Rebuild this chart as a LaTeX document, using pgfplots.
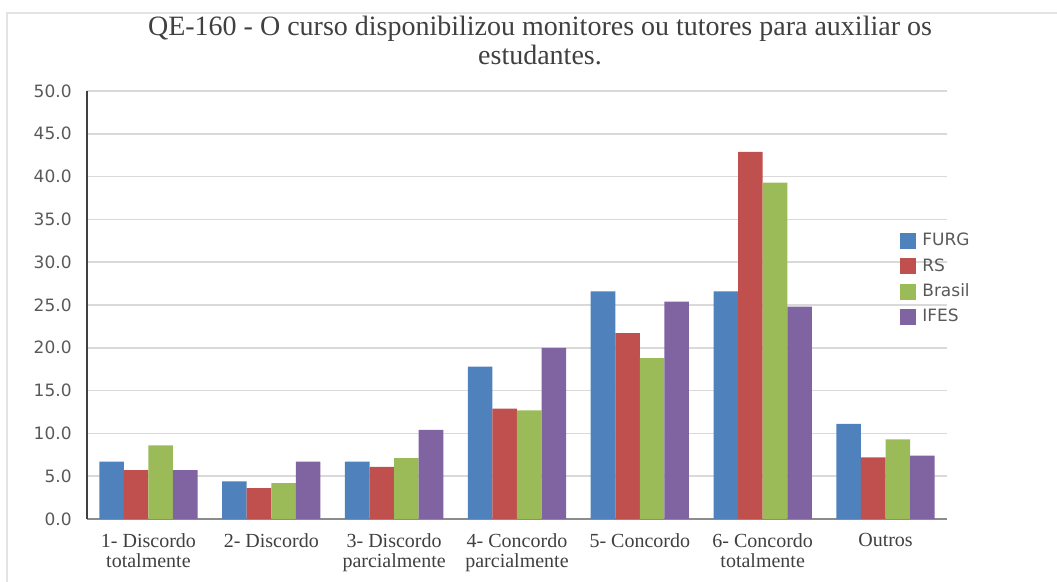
\documentclass[border=0pt]{standalone}
\usepackage{fontspec}
\setmainfont{Liberation Serif}
\newfontfamily\dejavu{DejaVu Sans}
\usepackage{pgfplots}
\pgfplotsset{compat=1.18}
\definecolor{furg}{HTML}{4F81BD}
\definecolor{rs}{HTML}{C0504D}
\definecolor{brasil}{HTML}{9BBB59}
\definecolor{ifes}{HTML}{8064A2}
\definecolor{txt}{HTML}{404040}
\definecolor{tick}{HTML}{595959}
\definecolor{gridc}{HTML}{D9D9D9}
\definecolor{framec}{HTML}{E3E3E3}
\begin{document}
\begin{tikzpicture}
\path[use as bounding box] (0,0) rectangle (528.5pt,291pt);
\draw[framec, line width=0.8pt] (3.5pt,0pt) -- (3.5pt,284.5pt) -- (528.5pt,284.5pt);
\node[anchor=base, text=txt, font=\fontsize{14}{14.5}\selectfont, inner sep=0pt] at (270pt,273pt) {QE-160 - O curso disponibilizou monitores ou tutores para auxiliar os};
\node[anchor=base, text=txt, font=\fontsize{14}{14.5}\selectfont, inner sep=0pt] at (270pt,258.5pt) {estudantes.};
\begin{axis}[
  at={(43.5pt,31.5pt)}, anchor=south west,
  scale only axis, width=430pt, height=214pt,
  xmin=-0.5, xmax=6.5, ymin=0, ymax=50,
  ytick={0,5,...,50},
  xtick={0,1,2,3,4,5,6},
  xticklabels={{1- Discordo\\totalmente},{2- Discordo},{3- Discordo\\parcialmente},{4- Concordo\\parcialmente},{5- Concordo},{6- Concordo\\totalmente},{Outros}},
  xticklabel style={anchor=north, inner sep=0pt, yshift=-7pt, align=center, text=txt, font=\fontsize{10}{10}\selectfont},
  yticklabel style={anchor=east, inner sep=0pt, xshift=-7.5pt, text=tick, font=\dejavu\fontsize{8.5}{10}\selectfont},
  /pgf/number format/assume math mode=true,
  /pgf/number format/.cd, fixed, fixed zerofill, precision=1, /pgfplots/.cd,
  major tick length=0pt,
  axis lines*=left,
  axis line style={-},
  x axis line style={draw=gray!90, line width=1pt},
  y axis line style={draw=txt, line width=1pt},
  ymajorgrids, grid style={draw=gridc, line width=0.75pt},
  ybar, bar width=0.2,
  area legend,
  legend image code/.code={\fill[#1] (0pt,-4pt) rectangle (8pt,4pt);},
  legend style={at={(0.9453,0.673)}, anchor=north west, draw=none, fill=none, inner sep=0pt,
    font=\dejavu\fontsize{8.5}{10}\selectfont, text=tick, row sep=2.8pt,
    nodes={inner sep=1pt},
    /tikz/every odd column/.append style={column sep=2pt}},
  legend cell align=left,
]
\addplot[fill=furg, draw=none, bar shift=-0.3] coordinates {(0,6.7) (1,4.4) (2,6.7) (3,17.8) (4,26.6) (5,26.6) (6,11.1)};
\addplot[fill=rs, draw=none, bar shift=-0.1] coordinates {(0,5.7) (1,3.6) (2,6.1) (3,12.9) (4,21.7) (5,42.9) (6,7.2)};
\addplot[fill=brasil, draw=none, bar shift=0.1] coordinates {(0,8.6) (1,4.2) (2,7.1) (3,12.7) (4,18.8) (5,39.3) (6,9.3)};
\addplot[fill=ifes, draw=none, bar shift=0.3] coordinates {(0,5.7) (1,6.7) (2,10.4) (3,20.0) (4,25.4) (5,24.8) (6,7.4)};
\legend{FURG,RS,Brasil,IFES}
\end{axis}
\end{tikzpicture}
\end{document}
